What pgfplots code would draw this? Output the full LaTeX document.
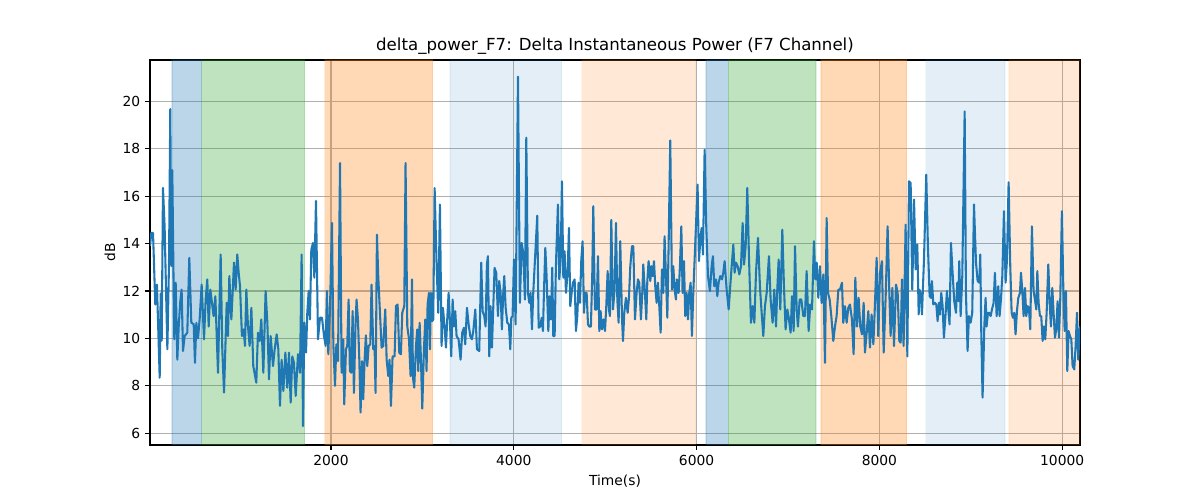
\documentclass[border=0pt]{standalone}
\usepackage{pgfplots}
\pgfplotsset{compat=1.18}
\usepackage{fontspec}
\setmainfont{DejaVu Sans}
\definecolor{tabblue}{HTML}{1F77B4}
\definecolor{taborange}{HTML}{FF7F0E}
\definecolor{tabgreen}{HTML}{2CA02C}
\definecolor{gridgray}{HTML}{B0B0B0}
\begin{document}
\begin{tikzpicture}
\useasboundingbox (-1.5in,-0.55in) rectangle (10.5in,4.45in);
\begin{axis}[
  at={(0,0)}, anchor=south west,
  scale only axis, width=9.3in, height=3.85in,
  xmin=20, xmax=10195, ymin=5.5, ymax=21.75,
  xtick={2000,4000,6000,8000,10000},
  ytick={6,8,10,12,14,16,18,20},
  scaled x ticks=false,
  /pgf/number format/1000 sep={},
  /pgf/number format/assume math mode=true,
  tick align=outside, major tick length=3.5pt,
  tick style={black, line width=0.8pt},
  axis line style={black, line width=0.8pt},
  xtick pos=bottom, ytick pos=left,
  grid=major,
  major grid style={gridgray, line width=0.8pt},
  tick label style={font=\fontsize{10}{12}\selectfont},
  label style={font=\fontsize{10}{12}\selectfont},
  every axis title shift=0pt,
  title style={font=\fontsize{12}{14}\selectfont, at={(axis description cs:0.5,1.036)}, anchor=center},
  title={delta\_power\_F7: Delta Instantaneous Power (F7 Channel)},
  xlabel={Time(s)},
  ylabel={dB},
  xlabel style={at={(axis description cs:0.5,-0.0935)}, anchor=center},
  ylabel style={at={(axis description cs:-0.043,0.5)}, anchor=center, rotate=0},
  spanA/.style={fill=#1, fill opacity=0.3, draw=#1, draw opacity=0.15, line width=0.8pt},
  spanB/.style={fill=#1, fill opacity=0.12, draw=#1, draw opacity=0.06, line width=0.8pt},
  spanC/.style={fill=#1, fill opacity=0.17, draw=#1, draw opacity=0.08, line width=0.8pt},
]
% shaded spans
\addplot[spanA=tabblue] coordinates {(261,5.5) (584,5.5) (584,21.75) (261,21.75)} -- cycle;
\addplot[spanA=tabgreen] coordinates {(584,5.5) (1712,5.5) (1712,21.75) (584,21.75)} -- cycle;
\addplot[spanA=taborange] coordinates {(1931,5.5) (3112,5.5) (3112,21.75) (1931,21.75)} -- cycle;
\addplot[spanB=tabblue] coordinates {(3302,5.5) (4523,5.5) (4523,21.75) (3302,21.75)} -- cycle;
\addplot[spanC=taborange] coordinates {(4742,5.5) (5993,5.5) (5993,21.75) (4742,21.75)} -- cycle;
\addplot[spanA=tabblue] coordinates {(6103,5.5) (6349,5.5) (6349,21.75) (6103,21.75)} -- cycle;
\addplot[spanA=tabgreen] coordinates {(6349,5.5) (7306,5.5) (7306,21.75) (6349,21.75)} -- cycle;
\addplot[spanA=taborange] coordinates {(7361,5.5) (8298,5.5) (8298,21.75) (7361,21.75)} -- cycle;
\addplot[spanB=tabblue] coordinates {(8509,5.5) (9374,5.5) (9374,21.75) (8509,21.75)} -- cycle;
\addplot[spanC=taborange] coordinates {(9418,5.5) (10250,5.5) (10250,21.75) (9418,21.75)} -- cycle;
% signal
\addplot[tabblue, line width=1.5pt, line join=round, mark=none] coordinates {
(20,13.9) (34,14.45) (53,14.45) (78,11.43) (96,12.27) (126,8.34) (137,11.9) (148,9.9) (162,16.35) (180,14.7) (210,9.54) (228,13.2) (242,19.68) (253,13.05) (264,17.1) (275,13.3) (286,9.96) (301,12.35) (319,9.1) (334,10.5) (352,11.6) (366,12.06) (381,9.47) (399,10.1) (428,10.24) (450,13.4) (472,10.66) (498,10.6) (512,8.97) (527,10.66) (545,10.0) (563,10.8) (585,12.27) (611,9.96) (629,11.64) (647,12.49) (662,10.5) (680,12.06) (698,11.5) (716,10.94) (735,11.78) (764,8.55) (793,13.54) (811,9.54) (830,7.71) (859,11.5) (873,10.1) (888,12.63) (910,10.8) (924,11.92) (939,13.2) (957,12.06) (975,13.54) (990,12.77) (1005,12.2) (1026,10.1) (1045,10.38) (1059,9.68) (1074,12.06) (1092,10.5) (1110,9.68) (1129,11.29) (1150,8.83) (1183,8.13) (1201,10.24) (1220,9.89) (1238,10.8) (1260,8.55) (1285,12.0) (1304,10.66) (1322,8.27) (1340,10.1) (1366,8.83) (1384,9.54) (1406,10.17) (1424,9.54) (1442,7.15) (1460,9.1) (1479,7.78) (1501,9.4) (1522,7.92) (1541,9.4) (1559,7.29) (1577,9.24) (1595,8.97) (1614,7.57) (1639,9.33) (1661,8.55) (1679,13.54) (1694,6.3) (1708,10.66) (1727,9.4) (1741,11.08) (1756,12.0) (1770,10.8) (1785,13.75) (1803,14.03) (1818,12.56) (1836,15.8) (1858,9.96) (1880,10.87) (1902,10.87) (1924,10.1) (1942,9.68) (1956,12.0) (1971,9.33) (1989,11.22) (2011,14.87) (2026,9.75) (2044,8.0) (2059,9.75) (2077,9.04) (2099,17.4)
(2116,8.55) (2134,9.96) (2145,7.22) (2164,9.54) (2178,9.68) (2193,11.64) (2207,8.62) (2222,8.55) (2237,11.15) (2251,7.7) (2269,10.66) (2280,11.64) (2295,10.8) (2310,9.1) (2324,6.87) (2339,9.04) (2353,7.43) (2368,9.1) (2382,10.13) (2397,8.83) (2412,9.68) (2430,9.75) (2444,12.27) (2463,9.54) (2477,9.68) (2488,7.7) (2503,14.38) (2517,12.63) (2536,11.08) (2554,9.61) (2572,9.68) (2594,11.22) (2609,9.1) (2627,8.41) (2641,9.1) (2656,7.15) (2674,9.24) (2696,9.24) (2711,11.36) (2729,11.43) (2747,9.4) (2765,9.33) (2780,11.08) (2802,11.36) (2816,17.4) (2835,10.5) (2853,10.0) (2871,8.41) (2886,12.49) (2897,8.34) (2911,7.92) (2930,9.68) (2944,10.38) (2955,8.62) (2970,10.66) (2984,9.17) (2999,7.04) (3017,9.54) (3032,10.8) (3046,8.62) (3057,11.43) (3072,11.92) (3083,9.54) (3094,11.92) (3108,10.73) (3119,10.8) (3134,16.35) (3156,13.05) (3174,11.08) (3192,15.65) (3210,9.68) (3225,11.29) (3243,10.5) (3258,9.61) (3272,10.8) (3287,11.92) (3302,10.66) (3316,9.24) (3331,11.64) (3345,10.5) (3360,11.15) (3374,10.1) (3396,9.96) (3418,9.1) (3436,10.24) (3455,10.45) (3469,9.75) (3488,11.29) (3506,10.59) (3524,10.1) (3542,9.96) (3557,10.31) (3579,11.22) (3597,9.54) (3622,9.47) (3644,13.2) (3659,11.15) (3677,10.94) (3692,10.5) (3706,13.12) (3717,13.47) (3732,9.24) (3746,11.36) (3761,9.61) (3776,11.36) (3790,12.98) (3808,12.77) (3827,10.94) (3841,12.42) (3856,11.92) (3870,10.38) (3885,11.92) (3896,12.63) (3911,11.29) (3929,10.66) (3947,10.59) (3962,9.54) (3973,10.87) (3987,10.94) (4002,13.33) (4020,10.59) (4046,21.05) (4067,11.5) (4086,14.03) (4104,13.6) (4122,11.64) (4137,18.47) (4155,11.92) (4170,11.5) (4184,11.92) (4199,10.38) (4213,11.92)
(4232,13.33) (4257,15.18) (4272,10.45) (4290,10.5) (4305,10.87) (4319,10.31) (4330,11.92) (4345,13.82) (4359,12.63) (4378,10.31) (4392,11.78) (4407,10.8) (4421,12.98) (4432,10.1) (4447,10.1) (4461,13.05) (4483,15.65) (4498,12.49) (4513,13.33) (4527,16.63) (4542,12.56) (4556,13.68) (4571,11.92) (4589,12.77) (4604,14.66) (4618,11.36) (4633,11.92) (4647,12.35) (4666,12.49) (4680,10.31) (4695,10.94) (4709,12.35) (4724,11.5) (4739,13.33) (4753,14.1) (4768,11.08) (4782,11.92) (4797,11.92) (4812,10.59) (4826,10.5) (4844,10.5) (4859,12.77) (4870,15.58) (4888,11.22) (4906,11.22) (4921,13.47) (4936,10.31) (4950,11.15) (4965,10.38) (4983,10.8) (4998,10.31) (5012,11.36) (5027,12.84) (5041,11.22) (5052,10.94) (5067,15.0) (5085,11.22) (5103,12.06) (5118,14.87) (5133,11.64) (5147,10.66) (5165,14.1) (5184,10.87) (5195,9.89) (5209,11.08) (5227,11.71) (5246,11.08) (5260,11.71) (5275,13.05) (5293,13.89) (5308,13.89) (5326,10.8) (5344,11.92) (5359,12.49) (5373,12.35) (5391,10.8) (5406,11.92) (5417,13.12) (5435,11.92) (5450,10.8) (5461,12.42) (5475,13.26) (5494,12.42) (5505,13.05) (5519,12.63) (5534,13.26) (5548,12.2) (5563,11.5) (5577,12.35) (5592,11.36) (5607,10.24) (5621,12.91) (5636,11.92) (5650,14.31) (5665,12.63) (5680,10.87) (5694,13.89) (5712,18.36) (5731,12.06) (5745,13.05) (5760,12.06) (5774,11.64) (5785,12.49) (5804,11.92) (5818,13.05) (5833,14.73) (5847,11.92) (5862,13.26) (5876,10.94) (5891,11.92) (5906,10.8) (5920,11.92) (5935,12.35) (5949,10.1) (5964,11.92) (5993,14.73) (6011,16.49) (6026,13.26) (6041,14.17) (6055,14.66) (6070,13.54) (6088,17.96) (6106,14.73) (6125,12.63) (6146,12.0) (6165,13.05) (6179,13.47) (6194,12.2) (6212,12.49) (6227,11.78) (6241,12.35) (6259,12.63) (6278,12.49) (6292,12.77) (6307,13.26) (6329,12.06) (6351,11.22)
(6376,12.63) (6402,13.96) (6416,12.77) (6431,13.2) (6449,13.05) (6468,12.7) (6486,13.05) (6504,14.87) (6519,13.12) (6537,13.89) (6555,16.35) (6573,13.47) (6595,10.66) (6613,11.36) (6632,10.66) (6650,12.77) (6672,14.24) (6694,12.13) (6712,11.08) (6730,10.1) (6748,11.36) (6767,11.92) (6792,13.47) (6810,11.64) (6832,10.66) (6850,12.06) (6869,10.5) (6883,12.06) (6898,13.33) (6916,11.22) (6938,14.59) (6956,12.2) (6974,10.38) (6993,11.22) (7011,10.8) (7029,10.24) (7044,11.78) (7062,10.31) (7077,13.89) (7095,11.22) (7109,10.5) (7128,11.64) (7146,11.64) (7168,10.94) (7186,10.94) (7204,12.84) (7226,10.31) (7244,11.43) (7263,11.22) (7284,14.1) (7299,12.49) (7314,13.2) (7332,11.71) (7350,13.05) (7368,11.5) (7387,12.7) (7405,8.97) (7423,15.08) (7438,11.92) (7456,11.64) (7474,10.94) (7496,9.89) (7514,10.5) (7532,10.94) (7551,12.06) (7569,12.06) (7591,12.35) (7605,10.66) (7624,11.36) (7642,10.66) (7660,11.29) (7678,11.43) (7700,10.8) (7718,9.33) (7737,12.56) (7755,10.5) (7773,11.71) (7791,10.5) (7810,10.17) (7828,11.5) (7842,9.4) (7861,10.24) (7879,11.15) (7897,9.61) (7915,11.01) (7934,9.75) (7948,11.08) (7970,13.4) (7988,10.1) (8007,12.77) (8028,13.26) (8047,9.4) (8069,11.78) (8090,14.73) (8109,11.92) (8123,10.1) (8142,12.13) (8160,9.68) (8182,12.27) (8200,11.92) (8218,9.89) (8233,9.82) (8247,12.49) (8265,9.68) (8287,14.8) (8306,9.24) (8324,16.63) (8342,16.56) (8360,12.06) (8379,15.86) (8397,12.91) (8415,13.96) (8430,11.01)
(8437,12.06) (8451,11.92) (8466,11.01) (8488,13.33) (8513,16.91) (8531,13.89) (8550,11.78) (8564,11.71) (8575,12.42) (8590,11.43) (8608,11.5) (8623,11.43) (8637,10.73) (8652,11.5) (8663,11.01) (8677,11.92) (8692,11.36) (8706,10.03) (8725,11.08) (8739,12.0) (8754,11.22) (8768,10.59) (8783,14.03) (8801,12.77) (8819,11.57) (8838,11.08) (8852,12.35) (8863,11.57) (8874,13.26) (8889,10.94) (8907,12.63) (8933,19.58) (8947,11.92) (8965,9.47) (8980,10.94) (8998,10.66) (9016,11.08) (9035,15.65) (9057,13.2) (9075,12.42) (9093,12.35) (9104,13.54) (9115,10.24) (9129,7.5) (9148,10.5) (9162,11.71) (9173,10.5) (9188,11.08) (9202,11.08) (9217,10.94) (9232,11.22) (9250,11.5) (9264,12.77) (9283,10.94) (9301,12.2) (9315,10.94) (9330,11.64) (9345,12.63) (9363,15.37) (9381,12.35) (9396,13.33) (9414,16.59) (9432,13.05) (9447,11.08) (9461,10.87) (9476,11.08) (9490,10.17) (9505,11.15) (9520,11.71) (9538,11.92) (9549,12.77) (9563,12.06) (9578,10.94) (9593,12.13) (9607,10.94) (9622,11.36) (9636,11.29) (9651,10.38) (9669,14.73) (9687,12.0) (9702,11.64) (9717,11.22) (9728,12.84) (9742,11.5) (9757,10.94) (9771,10.94) (9786,9.89) (9801,10.5) (9815,9.96) (9830,11.08) (9848,13.12) (9863,11.5) (9877,10.5) (9892,12.13) (9906,11.08) (9921,10.03) (9935,10.38) (9950,11.57) (9965,10.03) (9979,11.64) (9997,15.37) (10012,12.2) (10027,10.31) (10041,12.0) (10056,8.62) (10070,10.31) (10085,10.1) (10100,9.96) (10114,8.83) (10132,8.69) (10147,9.68) (10162,11.08) (10176,9.1) (10191,10.38) (10198,10.5)
};
\end{axis}
\end{tikzpicture}
\end{document}
